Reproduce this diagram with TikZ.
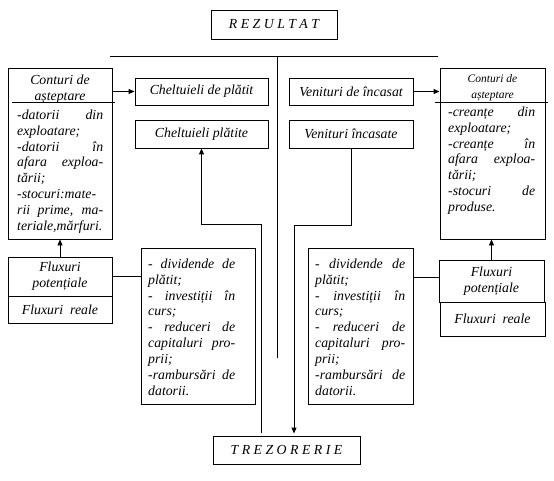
\documentclass[tikz,border=0pt]{standalone}
\usepackage{fontspec}
\setmainfont{Liberation Serif}
\usetikzlibrary{positioning, arrows.meta, calc}

\begin{document}
\begin{tikzpicture}[x=1pt, y=1pt,
  box/.style={draw, line width=0.9pt, inner sep=0pt, align=center},
  txt/.style={inner sep=0pt, align=justify, anchor=north west},
  arr/.style={-{Triangle[length=6pt, width=5pt]}, line width=0.9pt},
  ln/.style={line width=0.9pt},
  every node/.style={font=\itshape\fontsize{13.8}{15.9}\selectfont}
]
  \useasboundingbox (0,0) rectangle (554,480);

  % Nodes
  \node[box, minimum width=126pt, minimum height=29pt] (rez) at (274,455.5) {R E Z U L T A T};
  \node[box, minimum width=147pt, minimum height=28pt] (trez) at (286.5,30) {T R E Z O R E R I E};

  \node[box, minimum width=133pt, minimum height=27pt] (chpl) at (201.5,388.5) {Cheltuieli de plătit};
  \node[box, minimum width=133pt, minimum height=28pt] (chpt) at (201.5,346) {Cheltuieli plătite};
  \node[box, minimum width=124pt, minimum height=27pt] (vinc) at (351,388.5) {Venituri de încasat};
  \node[box, minimum width=124pt, minimum height=28pt] (vincs) at (351,346) {Venituri încasate};

  % Conturi de asteptare
  \node[box, minimum width=104pt, minimum height=171pt] (contL) at (60,326.5) {};
  \node[align=center, inner sep=0pt] (contLhd) at (60,390.5) {Conturi de\\așteptare};
  \node[txt, text width=86pt] (contLtxt) at (17,370.5)
    {-datorii din\linebreak exploatare;\par -datorii în\linebreak afara exploa-\linebreak tării;\par
     -stocuri:mate-\linebreak rii prime, ma-\linebreak teriale,mărfuri.};
  \node[box, minimum width=105pt, minimum height=171pt] (contR) at (492.5,326.5) {};
  \node[align=center, inner sep=0pt, font=\itshape\fontsize{11.5}{16}\selectfont] (contRhd) at (492.5,392)
    {Conturi de\\așteptare};
  \node[txt, text width=87pt] (contRtxt) at (448,373.5)
    {-creanțe din\linebreak exploatare;\par -creanțe în\linebreak afara exploa-\linebreak tării;\par
     -stocuri de\linebreak produse.};
  \draw[ln] (12,378) -- (115,378);
  \draw[ln] (435,378) -- (548,378);

  % Fluxuri
  \node[box, minimum width=104pt, minimum height=39pt] (fluxpL) at (60,203.5) {Fluxuri\\potențiale};
  \node[box, minimum width=104pt, minimum height=27pt] (fluxrL) at (60,170.5) {Fluxuri\ \ reale};
  \node[box, minimum width=105pt, minimum height=42pt] (fluxpR) at (491.5,199) {Fluxuri\\potențiale};
  \node[box, minimum width=105pt, minimum height=34pt] (fluxrR) at (492.5,161) {Fluxuri\ \ reale};

  \node[box, minimum width=114pt, minimum height=156pt] (listL) at (198,154) {};
  \node[txt, text width=87pt] (listLtxt) at (148,221.5)
    {- dividende de\linebreak plătit;\par - investiții în\linebreak curs;\par
     - reduceri de\linebreak capitaluri pro-\linebreak prii;\par -rambursări de\linebreak datorii.};
  \node[box, minimum width=105pt, minimum height=156pt] (listR) at (360.5,154) {};
  \node[txt, text width=90pt] (listRtxt) at (315,221.5)
    {- dividende de\linebreak plătit;\par - investiții în\linebreak curs;\par
     - reduceri de\linebreak capitaluri pro-\linebreak prii;\par -rambursări de\linebreak datorii.};

  % Lines
  \coordinate (hl) at (110,424);
  \coordinate (hr) at (438,424);
  \coordinate (mid) at (277,424);
  \coordinate (midend) at (277,122);
  \draw[ln] (hl) -- (hr);
  \draw[ln] (mid) -- (midend);

  % Arrows
  \draw[arr] (contL.east |- chpl.west) -- (chpl.west);
  \draw[arr] (vinc.east) -- (vinc.east -| contR.west);
  \draw[arr] (fluxpL.north) -- (contL.south);
  \draw[arr] (fluxpR.north) -- (fluxpR.north |- contR.south);
  \draw[ln] (fluxpL.east) -- (fluxpL.east -| listL.west);
  \draw[ln] ([yshift=4pt]fluxpR.west) -- ([yshift=4pt]fluxpR.west -| listR.east);
  \draw[arr, shorten <=3pt] ([xshift=-25.5pt]trez.north) -- ++(0,211) -| (chpt.south);
  \draw[arr, shorten >=2pt] (vincs.south) -- ++(0,-77) -| ([xshift=7.5pt]trez.north);
\end{tikzpicture}
\end{document}
